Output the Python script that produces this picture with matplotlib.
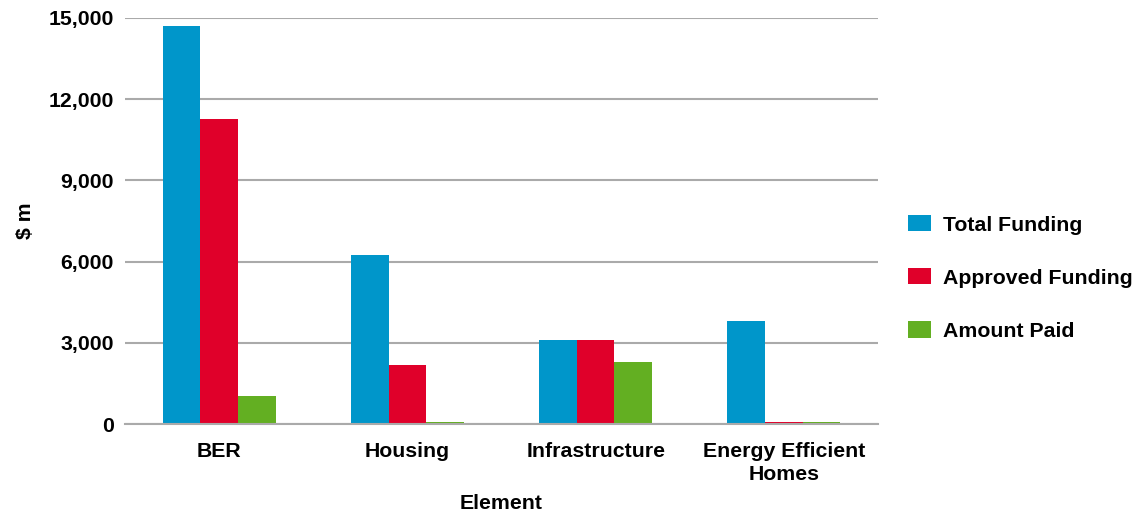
import matplotlib
matplotlib.use("Agg")
import matplotlib.pyplot as plt
import numpy as np
from matplotlib.ticker import FuncFormatter

plt.rcParams['font.family'] = ['Liberation Sans', 'DejaVu Sans']
plt.rcParams['font.weight'] = 'bold'

categories = ["BER", "Housing", "Infrastructure", "Energy Efficient\nHomes"]
series_names = ["Total Funding", "Approved Funding", "Amount Paid"]
total_funding = [14700, 6240, 3090, 3820]
approved_funding = [11270, 2180, 3090, 90]
amount_paid = [1020, 90, 2290, 90]
colors = ["#0096CA", "#E0002A", "#63AF22"]
yticks = [0, 3000, 6000, 9000, 12000, 15000]

FS = 15.3

fig = plt.figure(figsize=(11.35, 5.15), dpi=100)
ax = fig.add_axes([125/1135, 91/515, 753/1135, 406/515])

x = np.arange(len(categories))
w = 0.2
for i, (vals, name, c) in enumerate(zip([total_funding, approved_funding, amount_paid], series_names, colors)):
    ax.bar(x + (i - 1) * w, vals, width=w, color=c, label=name, zorder=3)

ax.set_xlim(-0.5, 3.5)
ax.set_ylim(0, 15000)
ax.set_yticks(yticks)
ax.yaxis.set_major_formatter(FuncFormatter(lambda v, p: f"{int(v):,}"))
ax.set_xticks(x)
ax.set_xticklabels(categories, fontsize=FS, fontweight='bold', linespacing=1.25)
ax.tick_params(axis='y', labelsize=FS, length=0, pad=8)
ax.tick_params(axis='x', length=0, pad=13)
ax.grid(axis='y', color='#AAAAAA', linewidth=1.5, zorder=0)
for s in ['top', 'right', 'left']:
    ax.spines[s].set_visible(False)
ax.spines['bottom'].set_color('#AAAAAA')
ax.spines['bottom'].set_linewidth(1.5)
ax.spines['bottom'].set_zorder(4)

ax.set_ylabel("$ m", fontsize=FS, fontweight='bold', labelpad=10)
ax.set_xlabel("Element", fontsize=FS, fontweight='bold', labelpad=7)

leg = fig.legend(loc='upper left', bbox_to_anchor=(889/1135, (515-196)/515),
                 frameon=False, fontsize=FS, labelspacing=1.58,
                 handlelength=1.08, handleheight=0.8, handletextpad=0.55)

fig.savefig("out.png", dpi=100)
